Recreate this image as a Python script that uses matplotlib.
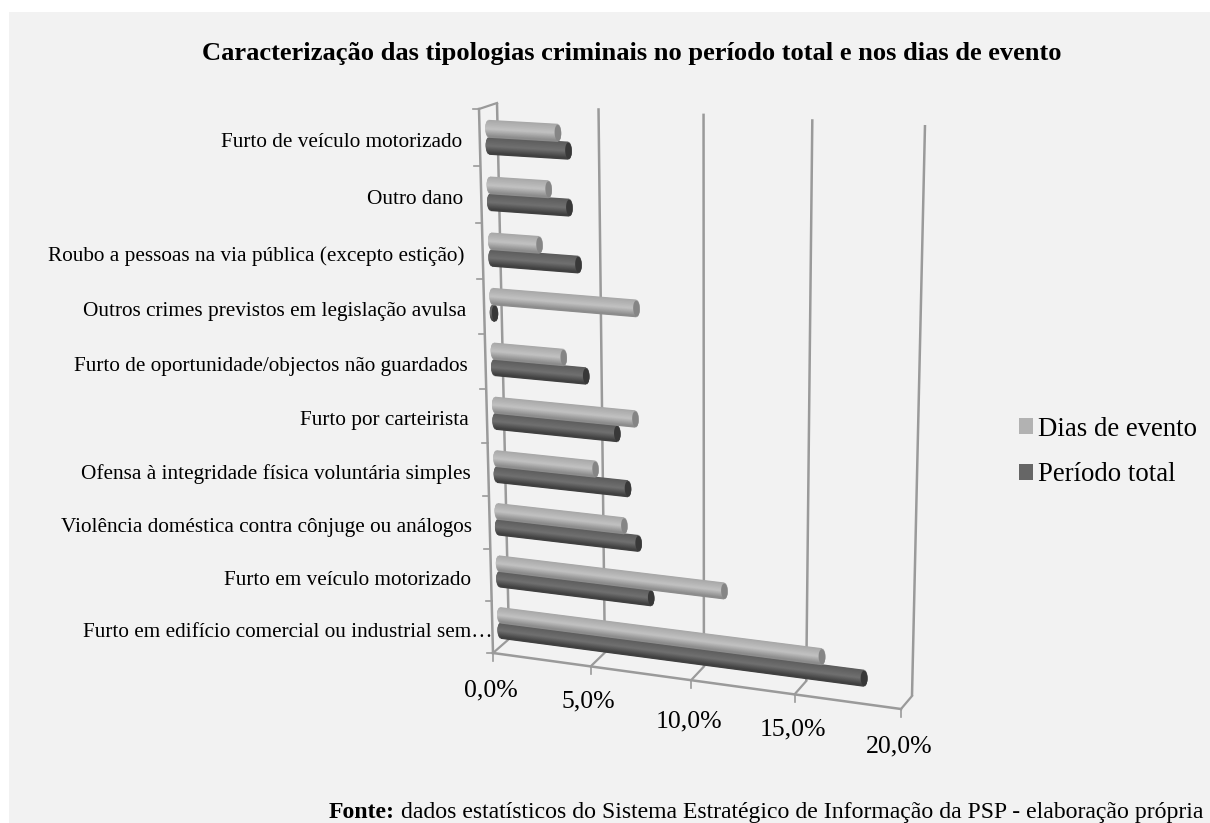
import numpy as np
import matplotlib
matplotlib.use("Agg")
import matplotlib.pyplot as plt
from matplotlib.patches import Patch, Rectangle
from matplotlib.transforms import Transform

plt.rcParams['font.family'] = ['Liberation Serif', 'DejaVu Serif']

# bottom category first, same order as the value axis of the chart
categories = [
    "Furto em edifício comercial ou industrial sem…",
    "Furto em veículo motorizado",
    "Violência doméstica contra cônjuge ou análogos",
    "Ofensa à integridade física voluntária simples",
    "Furto por carteirista",
    "Furto de oportunidade/objectos não guardados",
    "Outros crimes previstos em legislação avulsa",
    "Roubo a pessoas na via pública (excepto estição)",
    "Outro dano",
    "Furto de veículo motorizado",
]
dias_evento = [16.0, 11.3, 6.4, 5.0, 7.0, 3.5, 7.1, 2.4, 2.9, 3.4]
periodo_total = [18.0, 7.7, 7.1, 6.6, 6.1, 4.6, 0.1, 4.3, 3.9, 3.9]
x_ticks = [0, 5, 10, 15, 20]
x_tick_labels = ["0,0%", "5,0%", "10,0%", "15,0%", "20,0%"]

W, H = 1210, 823
XMAX, NCAT = 20, 10
GRID = "#9A9A9A"
RV, RH = 0.16, 0.14   # cylinder radius in value / category units

# where the chart box corners land on the picture (v=0,h=0 / v=0,h=top / v=max,h=0 / v=max,h=top)
FRONT = [(493, 653), (479, 109), (901, 709), (911, 134)]
BACK = [(509, 639), (497, 103), (912, 696), (925, 125)]
MIDDLE = [(501, 646), (488, 106), (906.5, 700), (918, 129.5)]


class PlaneTransform(Transform):
    # perspective map from (value, category height) to picture pixels
    input_dims = 2
    output_dims = 2
    is_affine = False
    has_inverse = False

    def __init__(self, corners):
        super().__init__()
        src = [(0, 0), (0, NCAT), (XMAX, 0), (XMAX, NCAT)]
        A, b = [], []
        for (u, v), (x, y) in zip(src, corners):
            A.append([u, v, 1, 0, 0, 0, -u * x, -v * x])
            A.append([0, 0, 0, u, v, 1, -u * y, -v * y])
            b += [x, y]
        self.m = np.append(np.linalg.solve(np.array(A, float), np.array(b, float)), 1).reshape(3, 3)

    def transform_non_affine(self, values):
        pts = np.column_stack([values, np.ones(len(values))]) @ self.m.T
        return pts[:, :2] / pts[:, 2:]


fig = plt.figure(figsize=(W / 100, H / 100), dpi=100, facecolor="white")
ax = fig.add_axes([0, 0, 1, 1])
ax.set_xlim(0, W)
ax.set_ylim(H, 0)
ax.axis("off")
ax.add_patch(Rectangle((9, 12), W, H, facecolor="#F2F2F2", edgecolor="none", zorder=0))

front = PlaneTransform(FRONT)
back = PlaneTransform(BACK)
middle = PlaneTransform(MIDDLE)

# walls
for v in x_ticks:
    ax.plot([v, v], [0, NCAT], color=GRID, lw=1.8, transform=back + ax.transData, zorder=1,
            solid_capstyle="butt")
    p = front.transform([[v, 0]])[0]
    q = back.transform([[v, 0]])[0]
    ax.plot([p[0], q[0]], [p[1], q[1]], color=GRID, lw=1.6, zorder=1)
    ax.plot([p[0], p[0]], [p[1], p[1] + 8], color=GRID, lw=1.2, zorder=1)

ax.plot([0, 0], [0, NCAT], color=GRID, lw=1.8, transform=front + ax.transData, zorder=1)
ax.plot([0, XMAX], [0, 0], color=GRID, lw=1.8, transform=front + ax.transData, zorder=1)
p = front.transform([[0, NCAT]])[0]
q = back.transform([[0, NCAT]])[0]
ax.plot([p[0], q[0]], [p[1], q[1]], color=GRID, lw=1.6, zorder=1)
for h in range(NCAT + 1):
    p = front.transform([[0, h]])[0]
    ax.plot([p[0] - 6, p[0]], [p[1], p[1]], color=GRID, lw=1.2, zorder=1)


def cylinder(value, h, top, mid, bottom, cap, z):
    # stack of thin lines across the diameter gives the shaded tube
    ts = np.linspace(1, -1, 26)
    for t in ts:
        if t > -0.1:
            col = np.interp(t, [-0.1, 1], [mid, top])
        else:
            col = np.interp(t, [-1, -0.1], [bottom, mid])
        bulge = RV * np.sqrt(1 - t * t)
        ax.plot([-bulge, value + bulge], [h + t * RH, h + t * RH], color=str(col), lw=1.5,
                transform=middle + ax.transData, solid_capstyle="butt", zorder=z)
    a = np.linspace(0, 2 * np.pi, 40)
    ax.fill(value + RV * np.cos(a), h + RH * np.sin(a), color=str(cap), lw=0,
            transform=middle + ax.transData, zorder=z + 0.5)


for i in range(NCAT):
    cylinder(periodo_total[i], i + 0.3, 0.36, 0.44, 0.25, 0.22, 3 + i * 0.01)
    cylinder(dias_evento[i], i + 0.6, 0.66, 0.76, 0.55, 0.52, 4 + i * 0.01)

# category labels, the cut off one runs right up to the axis
label_dx = [0, -20, -18, -18, -18, -18, -18, -18, -18, -18]
for i, name in enumerate(categories):
    ax.annotate(name, xy=(0, i + 0.5), xycoords=front + ax.transData, xytext=(label_dx[i], -5),
                textcoords="offset pixels", ha="right", va="center", fontsize=15.35,
                color="black", zorder=6)

# value labels, Excel snaps them a little unevenly
tick_dy = [37, 35, 41, 35, 37]
for v, lab, dy in zip(x_ticks, x_tick_labels, tick_dy):
    ax.annotate(lab, xy=(v, 0), xycoords=front + ax.transData, xytext=(-2, -dy),
                textcoords="offset pixels", ha="center", va="center", fontsize=18.5, color="black")

ax.text(632, 53, "Caracterização das tipologias criminais no período total e nos dias de evento",
        ha="center", va="center", fontsize=19.05, fontweight="bold", color="black")

handles = [Patch(facecolor="#B2B2B2", edgecolor="none"), Patch(facecolor="#666666", edgecolor="none")]
ax.legend(handles, ["Dias de evento", "Período total"], loc="center left", bbox_to_anchor=(1019, 452),
          bbox_transform=ax.transData, frameon=False, fontsize=19.3, handlelength=0.52, handleheight=0.52,
          handletextpad=0.19, labelspacing=0.78, borderpad=0, borderaxespad=0)

fonte = ax.text(329, 818, "Fonte:", fontsize=17.1, fontweight="bold", ha="left", va="baseline", color="black")
ax.annotate(" dados estatísticos do Sistema Estratégico de Informação da PSP - elaboração própria",
            xy=(1, 0), xycoords=fonte, ha="left", va="bottom", fontsize=17.1, color="black",
            annotation_clip=False)

fig.savefig("out.png", dpi=100)
